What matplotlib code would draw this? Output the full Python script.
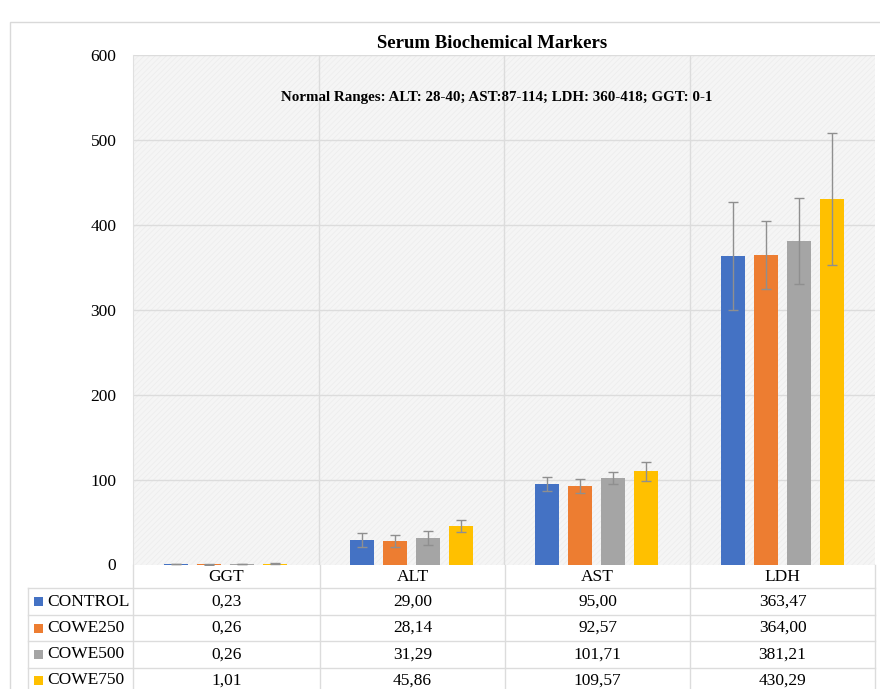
import matplotlib
matplotlib.use("Agg")
import matplotlib.pyplot as plt
from matplotlib.patches import Rectangle
import numpy as np

plt.rcParams['font.family'] = ['Liberation Serif', 'DejaVu Serif']
plt.rcParams['hatch.linewidth'] = 0.5

markers = ["GGT", "ALT", "AST", "LDH"]
groups = ["CONTROL", "COWE250", "COWE500", "COWE750"]
colors = ["#4472C4", "#ED7D31", "#A5A5A5", "#FFC000"]

control = [0.23, 29.00, 95.00, 363.47]
cowe250 = [0.26, 28.14, 92.57, 364.00]
cowe500 = [0.26, 31.29, 101.71, 381.21]
cowe750 = [1.01, 45.86, 109.57, 430.29]

err_control = [0.2, 8.0, 8.5, 63.5]
err_cowe250 = [0.3, 7.0, 8.0, 40.0]
err_cowe500 = [0.2, 8.5, 7.0, 50.5]
err_cowe750 = [0.6, 7.0, 11.5, 78.0]

series = [control, cowe250, cowe500, cowe750]
errors = [err_control, err_cowe250, err_cowe500, err_cowe750]

yticks = [0, 100, 200, 300, 400, 500, 600]

W, H = 880, 689
fig = plt.figure(figsize=(W / 100, H / 100), dpi=100)

def fx(px):
    return px / W

def fy(py):
    return 1 - py / H

# outer border
fig.add_artist(Rectangle((fx(10), fy(695)), fx(880), (695 - 22) / H,
                         transform=fig.transFigure, fill=False, edgecolor="#d9d9d9", linewidth=1.0))

left, right, top, bottom = 133, 875, 55, 564.5
ax = fig.add_axes([fx(left), fy(bottom), fx(right - left), (bottom - top) / H])
ax.set_xlim(-0.5, 3.5)
ax.set_ylim(0, 600)

# hatched background
ax.add_patch(Rectangle((-0.5, 0), 4, 600, facecolor="#f5f5f5", edgecolor="#ececec",
                       hatch="//////", linewidth=0, zorder=0))

x = np.arange(len(markers))
spacing = 0.178
width = 0.13
for i, (vals, errs, c) in enumerate(zip(series, errors, colors)):
    ax.bar(x + (i - 1.5) * spacing, vals, width=width, color=c, zorder=3,
           yerr=errs, error_kw=dict(ecolor="#8f8f8f", elinewidth=1.0, capsize=3.5, capthick=1.0, zorder=4))

ax.set_yticks(yticks)
ax.set_yticklabels([str(t) for t in yticks], fontsize=12.5)
ax.tick_params(axis="y", length=0, pad=12)
ax.set_xticks([])
for b in [0.5, 1.5, 2.5]:
    ax.axvline(b, color="#dcdcdc", linewidth=1.0, zorder=1)
for t in yticks[1:]:
    ax.axhline(t, color="#dcdcdc", linewidth=1.0, zorder=1)
for s in ax.spines.values():
    s.set_visible(False)
ax.spines["left"].set_visible(True)
ax.spines["left"].set_color("#e0e0e0")

fig.text(fx(492), fy(43), "Serum Biochemical Markers", ha="center", va="center",
         fontsize=13.5, fontweight="bold")
fig.text(fx(497), fy(98), "Normal Ranges: ALT: 28-40; AST:87-114; LDH: 360-418; GGT: 0-1",
         ha="center", va="center", fontsize=10.8, fontweight="bold")

# data table
line_c = "#dcdcdc"
col_edges = [133, 320, 505, 690, 875]
row_lines = [588, 615, 641, 668]
header_y = 577
row_y = [601.5, 628, 654.5, 680.5]

for xe in col_edges:
    fig.add_artist(plt.Line2D([fx(xe), fx(xe)], [fy(bottom), fy(695)], transform=fig.transFigure,
                              color=line_c, linewidth=1.0))
fig.add_artist(plt.Line2D([fx(28), fx(28)], [fy(588), fy(695)], transform=fig.transFigure,
                          color=line_c, linewidth=1.0))
for yl in row_lines:
    fig.add_artist(plt.Line2D([fx(28), fx(875)], [fy(yl), fy(yl)], transform=fig.transFigure,
                              color=line_c, linewidth=1.0))

for j, m in enumerate(markers):
    cx = (col_edges[j] + col_edges[j + 1]) / 2
    fig.text(fx(cx), fy(header_y), m, ha="center", va="center", fontsize=12.5)

for i, (g, vals, c) in enumerate(zip(groups, series, colors)):
    fig.add_artist(Rectangle((fx(34), fy(row_y[i] + 4.5)), fx(9), 9 / H,
                             transform=fig.transFigure, facecolor=c, edgecolor="none"))
    fig.text(fx(47), fy(row_y[i]), g, ha="left", va="center", fontsize=12.5)
    for j, v in enumerate(vals):
        cx = (col_edges[j] + col_edges[j + 1]) / 2
        fig.text(fx(cx), fy(row_y[i]), f"{v:.2f}".replace(".", ","), ha="center", va="center", fontsize=12.5)

fig.savefig("out.png", dpi=100)
